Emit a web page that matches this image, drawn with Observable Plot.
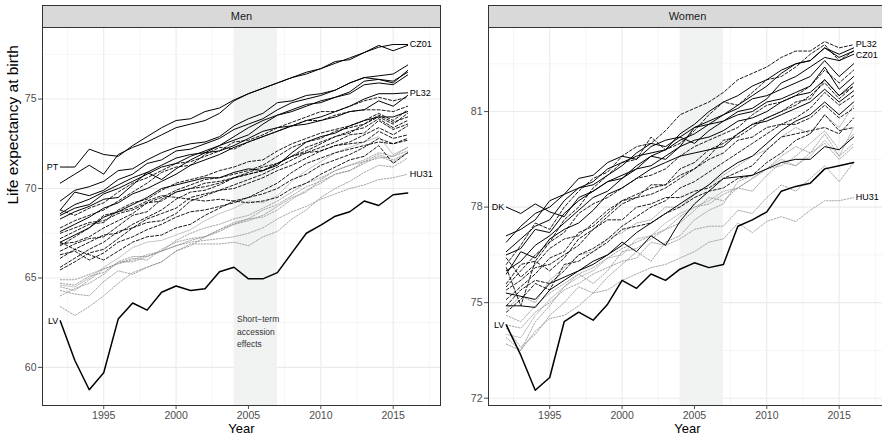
<!DOCTYPE html>
<html>
<head>
<meta charset="utf-8">
<script src="https://cdn.jsdelivr.net/npm/d3@7"></script>
<script src="https://cdn.jsdelivr.net/npm/@observablehq/plot@0.6"></script>
<style>
  body { margin: 0; background: #fff; font-family: "Liberation Sans", Arial, sans-serif; }
  #wrap { position: relative; width: 882px; height: 439px; overflow: hidden; background: #fff; }
  .panel { position: absolute; top: 0; }
  .strip { position: absolute; top: 5px; height: 23px; width: 399px; box-sizing: border-box;
           background: #d9d9d9; border: 1px solid #333; font-size: 11px; color: #1a1a1a;
           text-align: center; line-height: 21px; }
</style>
</head>
<body>
<div id="wrap"></div>
<script>
// ---------------- data ----------------
const years = [1992,1993,1994,1995,1996,1997,1998,1999,2000,2001,2002,2003,2004,2005,2006,2007,2008,2009,2010,2011,2012,2013,2014,2015,2016];
const accessionYears = [2004, 2007];
const xTicks = [1995, 2000, 2005, 2010, 2015];
const xMinor = [1992.5, 1997.5, 2002.5, 2007.5, 2012.5, 2017.5];
const menYTicks = [60, 65, 70, 75];
const menYMinor = [62.5, 67.5, 72.5, 77.5];
const womenYTicks = [72, 75, 78, 81];
const womenYMinor = [73.5, 76.5, 79.5, 82.5];
const panelTitles = ["Men", "Women"];
const annotationText = "Short\u2212term\naccession\neffects";

// Men: solid black lines
const menSolid = {
  PT:   [71.2,71.2,72.2,71.9,71.8, 72.4,72.9,73.4,73.8,73.9, 74.3,74.5,74.95,75.3,75.6, 75.9,76.2,76.5,76.7,77.0, 77.3,77.6,78.0,77.7,78.0],
  CZ01: [70.3,70.8,71.3,70.8,71.9, 72.3,72.6,73.0,73.4,73.6, 73.8,74.2,74.9,75.3,75.6, 75.9,76.2,76.4,76.7,77.1, 77.2,77.6,77.9,78.05,78.05],
  S1:   [69.3,69.9,70.1,70.4,71.0, 71.1,71.6,72.0,72.3,72.5, 72.6,72.9,73.5,73.9,74.2, 74.8,74.9,75.2,75.3,75.5, 75.9,76.2,76.3,76.4,76.9],
  S2:   [68.8,69.8,69.6,69.9,70.5, 70.8,71.4,71.6,72.1,72.2, 72.5,72.8,73.3,73.6,73.9, 74.4,74.8,75.0,75.2,75.5, 75.9,76.2,76.1,75.9,76.6],
  S3:   [68.6,69.1,69.4,69.8,70.2, 70.6,70.9,71.3,71.7,71.9, 72.0,72.4,72.9,73.4,73.8, 74.1,74.4,74.7,74.8,75.1, 75.4,76.0,76.1,76.0,76.5],
  S4:   [68.5,68.9,69.1,69.7,70.0, 70.4,70.8,71.2,71.4,71.8, 72.1,72.4,72.7,73.0,73.6, 74.1,74.3,74.6,74.9,75.1, 75.3,75.8,75.9,75.8,76.35],
  PL32: [67.6,68.0,68.4,68.9,69.2, 69.7,70.0,70.4,70.8,71.3, 71.6,71.9,72.3,72.6,72.9, 73.2,73.5,73.8,74.0,74.3, 74.6,75.0,75.3,75.3,75.35],
  S5:   [68.3,68.7,69.0,69.4,69.5, 70.2,70.9,70.5,71.1,71.6, 72.0,72.1,72.4,72.8,73.2, 73.4,73.5,73.6,73.8,74.0, 74.3,74.4,74.9,74.6,75.2],
  S6:   [67.0,67.4,67.8,68.4,68.7, 69.1,69.5,70.0,70.2,70.4, 70.6,70.6,70.9,71.1,71.0, 71.3,72.0,72.6,72.9,73.1, 73.5,73.8,74.0,74.0,74.3]
};
// Men: dashed black lines
const menDashed = {
  D1:  [68.8,68.5,68.9,69.2,69.8, 70.3,70.6,71.0,71.4,71.5, 71.8,72.1,72.6,72.7,73.0, 73.4,73.7,74.0,74.3,74.3, 74.6,74.9,75.1,74.9,75.1],
  D2:  [67.8,68.2,68.5,68.8,69.3, 69.8,70.3,70.9,71.2,71.3, 71.9,72.3,72.2,72.6,72.9, 73.2,73.5,73.8,73.8,74.1, 74.3,74.4,74.4,74.3,74.6],
  D3:  [67.2,67.6,68.0,68.1,68.8, 69.2,69.4,69.9,70.3,70.5, 70.7,71.0,71.2,71.5,71.6, 72.1,72.5,72.8,73.1,73.3, 73.5,73.8,74.2,73.8,74.4],
  D4:  [66.9,67.0,67.3,67.8,68.2, 68.6,69.2,69.5,69.9,70.2, 70.5,70.6,70.8,71.0,71.3, 71.8,72.3,72.6,72.8,73.2, 73.4,73.6,74.0,73.6,74.2],
  D5:  [66.5,66.9,67.2,67.3,67.9, 68.5,68.7,69.4,69.8,70.0, 70.3,70.4,70.6,70.9,71.2, 71.4,71.8,72.3,72.6,72.9, 73.1,73.6,74.1,73.7,74.0],
  D6:  [66.1,66.6,67.0,67.4,67.5, 68.0,68.4,68.8,69.4,69.8, 69.9,70.2,70.6,70.8,71.0, 71.4,71.8,72.1,72.5,72.9, 73.2,73.4,73.9,73.4,73.8],
  D7:  [65.6,66.1,66.6,67.0,67.6, 67.8,68.3,68.6,68.9,69.5, 69.7,69.9,70.2,70.5,70.8, 71.2,71.6,72.0,72.3,72.6, 73.0,73.1,73.8,73.3,73.6],
  D8:  [65.45,65.9,66.4,66.6,67.2, 67.8,68.1,68.2,68.6,69.3, 69.6,69.9,70.0,70.3,70.6, 71.0,71.3,71.7,72.1,72.4, 72.6,73.0,73.4,73.0,73.5],
  D9:  [67.5,67.8,68.1,68.2,68.6, 68.8,69.2,69.3,69.8,70.0, 70.1,70.3,70.6,70.8,71.0, 71.4,71.8,72.0,72.1,72.4, 72.5,72.6,73.2,72.8,73.0],
  D10: [66.3,66.5,66.0,66.4,67.0, 67.3,67.7,68.0,68.4,68.7, 68.8,69.0,69.2,69.5,69.7, 70.0,70.5,70.8,71.3,71.6, 71.9,72.3,72.8,72.5,72.7],
  D11: [66.8,67.3,67.8,68.5,68.7, 68.9,69.3,69.6,69.5,69.4, 69.3,69.4,69.3,69.2,69.3, 69.5,70.0,70.3,70.8,71.2, 71.6,71.8,72.4,71.4,72.0],
  D12: [67.0,66.6,66.3,66.0,66.5, 67.0,67.3,67.4,67.8,68.0, 68.5,68.9,69.3,69.5,69.9, 70.3,70.9,71.4,71.7,72.0, 72.2,72.4,72.6,72.5,72.8]
};
// Men: grey dotted lines
const menGrey = {
  G1:   [64.7,64.6,65.1,65.3,65.9, 66.2,66.2,66.5,67.1,67.5, 67.8,68.0,68.3,68.5,68.9, 69.3,69.8,70.3,70.6,71.0, 71.3,71.6,72.0,71.8,72.3],
  G2:   [64.5,64.3,64.9,65.5,65.8, 66.1,66.0,66.6,67.0,67.2, 67.3,67.6,68.0,68.3,68.8, 69.1,69.6,70.1,70.4,70.8, 71.0,71.4,71.8,71.5,72.0],
  G3:   [64.3,64.1,64.0,64.8,65.4, 65.2,65.6,65.9,66.5,66.9, 66.9,66.9,67.0,66.8,67.3, 67.6,68.3,68.8,69.5,70.0, 70.4,70.9,71.3,71.2,71.7],
  G4:   [63.4,62.9,63.4,64.0,64.7, 65.3,65.6,65.9,66.5,66.8, 67.3,67.7,68.1,68.3,68.4, 68.8,69.4,69.9,70.3,70.8, 71.0,71.5,71.9,71.6,72.0],
  G5:   [64.0,64.4,64.7,65.2,65.9, 65.9,66.2,66.5,66.8,67.1, 67.3,67.7,68.0,68.2,68.5, 69.0,69.5,69.8,70.5,71.0, 71.3,71.5,71.7,71.8,72.1],
  HU31: [64.9,64.9,65.2,65.5,65.8, 66.0,66.3,66.5,66.8,67.0, 67.1,67.2,67.3,67.5,67.8, 68.3,68.7,69.0,69.4,69.7, 70.0,70.2,70.5,70.6,70.8]
};
// Men: light grey solid line
const menGreySolid = {
  GS1: [64.6,64.5,65.0,65.6,66.1, 66.7,67.0,67.1,67.4,67.7, 68.2,68.6,68.9,69.3,69.2, 69.6,70.4,71.0,71.5,72.0, 72.3,72.6,72.9,71.9,72.3]
};
// Men: highlighted (thick) line
const menThick = {
  LV: [62.6,60.4,58.75,59.7,62.7, 63.6,63.2,64.2,64.55,64.3, 64.4,65.35,65.6,64.95,64.95, 65.3,66.4,67.5,67.95,68.45, 68.7,69.3,69.05,69.65,69.75]
};

// Women: solid black lines
const womenSolid = {
  DK:   [78.0,77.8,78.1,77.85,77.7, 78.3,78.5,78.8,79.0,79.2, 79.3,79.6,79.9,80.5,80.6, 80.7,81.0,81.1,81.4,81.9, 82.1,82.4,82.7,82.6,82.8],
  CZ01: [76.6,77.0,77.4,77.6,78.2, 78.6,78.8,79.2,79.4,79.6, 79.7,79.8,80.3,80.6,81.0, 81.3,81.5,81.8,82.0,82.3, 82.5,82.6,83.0,82.7,82.9],
  PL32: [76.0,76.3,76.8,77.1,77.5, 77.9,78.3,78.5,78.9,79.3, 79.6,79.8,80.1,80.3,80.6, 80.9,81.2,81.5,81.8,82.2, 82.5,82.6,83.0,82.8,83.0],
  WS1:  [77.1,77.3,77.6,78.2,78.4, 78.9,79.0,79.4,79.6,79.5, 79.9,80.1,80.2,80.5,80.7, 80.9,81.1,81.4,81.5,81.7, 81.9,82.1,82.6,82.1,82.5],
  WS2:  [76.9,77.4,77.8,78.0,78.4, 78.6,78.7,79.0,79.3,79.7, 80.0,79.9,80.2,80.0,80.4, 80.7,80.9,81.0,81.3,81.4, 81.6,81.8,82.4,81.7,82.1],
  WS3:  [76.5,76.7,77.3,77.2,77.8, 78.2,78.5,78.8,78.9,79.2, 79.6,79.5,79.9,80.1,80.2, 80.4,80.7,80.8,81.0,81.3, 81.5,81.6,82.0,81.5,81.9],
  WS4:  [75.9,76.6,76.4,77.0,77.3, 77.5,77.9,78.4,78.6,78.9, 79.2,79.4,79.6,79.7,79.8, 79.9,80.3,80.6,80.7,80.9, 81.1,81.3,81.7,81.3,81.65],
  WS5:  [75.3,75.2,75.1,75.6,75.8, 76.0,76.2,76.5,76.9,76.6, 77.1,76.8,77.55,78.1,78.5, 78.9,78.95,79.0,79.2,79.4, 79.5,79.5,79.9,79.8,80.2],
  WS6:  [74.9,74.9,74.85,75.4,75.7, 76.0,76.3,76.5,76.8,77.2, 77.5,77.8,78.1,78.4,78.7, 79.1,79.4,79.6,80.0,80.4, 80.7,80.9,81.3,80.9,81.3]
};
// Women: dashed black lines
const womenDashed = {
  WD1: [76.2,76.8,77.5,77.3,78.0, 78.5,78.9,79.1,79.6,79.9, 80.0,80.4,80.9,81.1,81.3, 81.6,82.0,82.2,82.4,82.7, 82.9,82.9,83.2,83.0,83.1],
  WD2: [75.5,76.0,76.5,76.9,77.6, 78.0,78.6,79.0,79.4,79.5, 80.2,79.8,80.0,80.4,80.9, 81.3,81.2,81.6,82.0,82.1, 82.4,82.8,83.1,82.6,82.9],
  WD3: [75.6,76.2,76.3,76.9,77.2, 77.8,78.1,78.3,78.6,78.9, 79.0,79.2,79.6,79.9,80.1, 80.3,80.5,80.9,81.2,81.3, 81.5,81.8,82.3,81.9,82.3],
  WD4: [75.1,75.5,75.9,76.4,76.6, 77.2,77.4,77.8,78.2,78.4, 78.6,78.7,79.2,79.4,79.8, 80.0,80.3,80.6,80.8,81.0, 81.3,81.4,82.0,81.5,81.8],
  WD5: [74.9,75.4,75.7,75.6,76.0, 76.5,76.7,77.0,77.4,77.7, 78.0,78.2,78.6,78.8,79.1, 79.4,79.7,80.0,80.3,80.6, 80.8,81.1,81.6,81.2,81.5],
  WD6: [76.4,75.8,76.2,76.7,77.0, 77.1,77.5,77.9,78.2,78.3, 78.7,78.7,79.0,79.2,79.5, 79.7,80.1,80.2,80.5,80.6, 80.6,80.8,81.2,80.8,81.1],
  WD7: [75.4,75.7,76.1,76.2,76.5, 76.8,77.3,77.6,77.6,78.0, 78.1,78.3,78.3,78.5,78.6, 78.9,79.1,79.3,79.8,80.2, 80.3,80.4,80.5,80.3,80.8],
  WD8: [74.7,75.1,75.6,75.4,76.2, 76.3,76.6,76.9,77.3,77.4, 77.5,77.8,78.0,78.3,78.5, 78.6,78.9,79.0,79.4,79.7, 80.1,80.3,80.9,80.4,80.5],
  WD9: [76.1,74.9,76.3,76.0,76.4, 77.0,77.3,77.7,78.1,78.3, 78.4,78.6,78.9,79.2,79.6, 80.1,80.2,80.5,80.8,81.0, 81.2,81.5,81.9,81.4,81.8]
};
// Women: grey dotted lines
const womenGrey = {
  HU31: [73.7,73.5,74.1,74.5,74.6, 74.9,75.3,75.4,75.7,75.9, 76.1,76.2,76.4,76.6,76.9, 77.0,77.5,77.2,77.55,77.7, 77.55,77.9,78.2,78.2,78.3],
  WG2:  [74.6,74.4,74.9,75.3,75.6, 75.9,76.1,76.4,76.7,76.9, 77.1,77.3,77.5,77.9,78.3, 78.2,78.6,78.9,79.2,79.6, 79.9,79.7,80.3,79.6,80.0],
  WG3:  [74.2,73.6,74.0,74.6,75.0, 75.5,75.3,75.8,76.2,76.6, 76.3,76.9,77.1,77.6,77.9, 78.1,78.8,79.0,79.2,79.3, 79.6,80.0,80.4,79.8,80.3],
  WG4:  [73.9,73.5,74.4,74.9,75.5, 75.9,75.6,76.0,76.6,76.7, 77.0,77.3,77.7,78.0,78.1, 78.4,78.6,78.5,79.0,79.4, 79.3,79.7,80.0,79.5,79.9],
  WG5:  [74.3,74.2,74.7,75.0,75.4, 75.6,75.9,76.1,76.3,76.4, 76.9,76.8,77.0,77.3,77.4, 77.4,77.9,77.8,78.3,78.7, 78.5,78.9,79.3,78.8,79.4],
  WG6:  [74.8,75.2,75.0,75.7,76.1, 76.5,76.6,77.0,77.2,77.5, 77.6,78.0,78.0,78.4,78.7, 79.0,79.3,79.6,79.8,80.2, 80.5,80.3,80.9,80.5,81.2]
};
// Women: light grey solid line
const womenGreySolid = {
  WG7: [74.0,73.9,74.6,75.1,75.5, 75.8,76.0,76.4,76.5,77.0, 77.1,77.5,77.8,78.0,78.2, 78.5,78.6,78.9,79.2,79.5, 79.3,79.6,80.1,79.6,80.5]
};
// Women: highlighted (thick) line
const womenThick = {
  LV: [74.3,73.35,72.25,72.65,74.4, 74.7,74.45,74.95,75.7,75.45, 75.9,75.7,76.05,76.25,76.1, 76.2,77.4,77.6,77.85,78.5, 78.65,78.75,79.2,79.3,79.4]
};

// labelled regions: [id, end of line, vertical nudge in px]
const menLabels = [["PT","start",0],["LV","start",0],["CZ01","end",0],["PL32","end",0],["HU31","end",0]];
const womenLabels = [["DK","start",0],["LV","start",0],["PL32","end",-4],["CZ01","end",4],["HU31","end",0]];

// ---------------- drawing ----------------
const FONT = '"Liberation Sans", Arial, Helvetica, sans-serif';

function toRows(group) {
  const rows = [];
  for (const [id, vals] of Object.entries(group)) {
    vals.forEach((v, i) => rows.push({id, year: years[i], value: v}));
  }
  return rows;
}

function panel(cfg) {
  const all = Object.assign({}, cfg.solid, cfg.dashed, cfg.grey, cfg.greySolid, cfg.thick);
  const labelMarks = cfg.labels.map(([id, side, nudge]) => {
    const vals = all[id];
    const i = side === "start" ? 0 : vals.length - 1;
    return Plot.text([{id, year: years[i], value: vals[i]}], {
      x: "year", y: "value", text: "id",
      dx: side === "start" ? -2 : 2, dy: nudge,
      textAnchor: side === "start" ? "end" : "start",
      fontSize: 9, fill: "#000"
    });
  });
  const marks = [
    Plot.gridX(xMinor, {stroke: "#ececec", strokeOpacity: 1, strokeWidth: 0.55}),
    Plot.gridX(xTicks, {stroke: "#ebebeb", strokeOpacity: 1, strokeWidth: 1.1}),
    Plot.gridY(cfg.yMinor, {stroke: "#ececec", strokeOpacity: 1, strokeWidth: 0.55}),
    Plot.gridY(cfg.yTicks, {stroke: "#ebebeb", strokeOpacity: 1, strokeWidth: 1.1}),
    Plot.rect([{x1: accessionYears[0], x2: accessionYears[1]}], {x1: "x1", x2: "x2", fill: "#f1f3f3"}),
    Plot.line(toRows(cfg.greySolid), {x: "year", y: "value", z: "id", stroke: "#b0b0b0", strokeWidth: 0.75}),
    Plot.line(toRows(cfg.grey), {x: "year", y: "value", z: "id", stroke: "#8f8f8f", strokeWidth: 0.8, strokeDasharray: "1.5,1.5"}),
    Plot.line(toRows(cfg.dashed), {x: "year", y: "value", z: "id", stroke: "#000", strokeWidth: 0.9, strokeDasharray: "3,2"}),
    Plot.line(toRows(cfg.solid), {x: "year", y: "value", z: "id", stroke: "#000", strokeWidth: 1}),
    Plot.line(toRows(cfg.thick), {x: "year", y: "value", z: "id", stroke: "#000", strokeWidth: 1.5}),
    ...labelMarks,
    Plot.frame({stroke: "#333", strokeWidth: 1}),
    Plot.axisX(xTicks, {tickSize: 4, tickPadding: 2, tickFormat: d => String(d), label: null, fontSize: 10.5}),
    Plot.axisY(cfg.yTicks, {tickSize: 4, tickPadding: 2, label: null, fontSize: 10.5}),
    Plot.text(["Year"], {frameAnchor: "bottom", dy: 27, fontSize: 13, fill: "#000"})
  ];
  if (cfg.annotate) {
    marks.push(Plot.text([annotationText], {x: () => accessionYears[0], frameAnchor: "bottom", dx: 3, dy: -75, textAnchor: "start", lineAnchor: "middle", lineHeight: 1.5, fontSize: 8.5, fill: "#333"}));
  }
  if (cfg.yTitle) {
    marks.push(Plot.text([cfg.yTitle], {frameAnchor: "left", dx: -29, dy: -12, rotate: -90, fontSize: 15.5, fill: "#000"}));
  }
  return Plot.plot({
    width: 441, height: 439,
    marginLeft: 42, marginRight: 1, marginTop: 27, marginBottom: 34,
    x: {domain: [1990.77, 2018.27]},
    y: {domain: cfg.yDomain},
    style: {fontFamily: FONT, fontSize: "10.5px", color: "#4d4d4d", background: "transparent", overflow: "visible"},
    marks
  });
}

const wrap = document.getElementById("wrap");

const men = panel({solid: menSolid, dashed: menDashed, grey: menGrey, greySolid: menGreySolid, thick: menThick,
  labels: menLabels, yDomain: [57.87, 79.0], yTicks: menYTicks, yMinor: menYMinor, annotate: true,
  yTitle: "Life expectancy at birth"});
men.classList.add("panel");
men.style.left = "0px";
wrap.appendChild(men);

const women = panel({solid: womenSolid, dashed: womenDashed, grey: womenGrey, greySolid: womenGreySolid, thick: womenThick,
  labels: womenLabels, yDomain: [71.77, 83.64], yTicks: womenYTicks, yMinor: womenYMinor});
women.classList.add("panel");
women.style.left = "446px";
wrap.appendChild(women);

[[42, panelTitles[0]], [488, panelTitles[1]]].forEach(([left, t]) => {
  const s = document.createElement("div");
  s.className = "strip";
  s.style.left = left + "px";
  s.textContent = t;
  wrap.appendChild(s);
});
</script>
</body>
</html>
